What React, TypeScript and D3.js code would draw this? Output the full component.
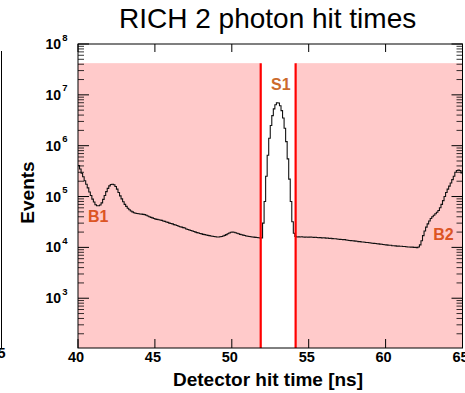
import React from "react";
import * as d3 from "d3";

// ---- data ----
const binStart = 40;
const binWidth = 0.1;
const counts: number[] = [
  4.07e5, 3.47e5, 2.88e5, 2.45e5, 2.04e5, 1.74e5, 1.48e5, 1.23e5, 1.05e5, 8.9e4,
  7.8e4, 6.9e4, 6.6e4, 6.6e4, 6.8e4, 7.5e4, 8.8e4, 1.05e5, 1.25e5, 1.45e5,
  1.62e5, 1.72e5, 1.75e5, 1.7e5, 1.58e5, 1.4e5, 1.2e5, 1.03e5, 9.0e4, 7.9e4,
  7.0e4, 6.4e4, 5.9e4, 5.5e4, 5.2e4, 5.0e4, 4.8e4, 4.7e4, 4.65e4, 4.6e4,
  4.55e4, 4.5e4, 4.45e4, 4.4e4, 4.3e4, 4.15e4, 4.0e4, 3.9e4, 3.8e4, 3.7e4,
  3.6e4, 3.55e4, 3.5e4, 3.45e4, 3.4e4, 3.3e4, 3.25e4, 3.15e4, 3.1e4, 3.0e4,
  2.95e4, 2.9e4, 2.8e4, 2.75e4, 2.7e4, 2.6e4, 2.55e4, 2.5e4, 2.45e4, 2.4e4,
  2.3e4, 2.25e4, 2.2e4, 2.15e4, 2.1e4, 2.05e4, 2.0e4, 1.95e4, 1.92e4, 1.88e4,
  1.84e4, 1.8e4, 1.78e4, 1.75e4, 1.72e4, 1.7e4, 1.68e4, 1.66e4, 1.64e4, 1.62e4,
  1.6e4, 1.6e4, 1.62e4, 1.64e4, 1.68e4, 1.72e4, 1.78e4, 1.85e4, 1.92e4, 1.98e4,
  2.0e4, 1.98e4, 1.94e4, 1.9e4, 1.85e4, 1.8e4, 1.77e4, 1.74e4, 1.71e4, 1.68e4,
  1.66e4, 1.64e4, 1.62e4, 1.6e4, 1.59e4, 1.57e4, 1.56e4, 1.55e4, 1.54e4, 1.53e4,
  3.0e4, 8.0e4, 2.5e5, 6.5e5, 1.4e6, 2.5e6, 3.9e6, 5.3e6, 6.4e6, 7.0e6,
  6.9e6, 6.1e6, 4.9e6, 3.5e6, 2.2e6, 1.2e6, 5.5e5, 2.2e5, 8.0e4, 3.2e4,
  1.9e4, 1.65e4, 1.6e4, 1.61e4, 1.6e4, 1.62e4, 1.6e4, 1.59e4, 1.6e4, 1.58e4,
  1.59e4, 1.6e4, 1.58e4, 1.57e4, 1.58e4, 1.56e4, 1.55e4, 1.56e4, 1.54e4, 1.55e4,
  1.54e4, 1.52e4, 1.53e4, 1.5e4, 1.51e4, 1.49e4, 1.48e4, 1.48e4, 1.46e4, 1.45e4,
  1.44e4, 1.43e4, 1.42e4, 1.42e4, 1.4e4, 1.38e4, 1.37e4, 1.36e4, 1.35e4, 1.34e4,
  1.33e4, 1.32e4, 1.3e4, 1.3e4, 1.28e4, 1.28e4, 1.26e4, 1.25e4, 1.25e4, 1.23e4,
  1.22e4, 1.21e4, 1.2e4, 1.19e4, 1.18e4, 1.17e4, 1.16e4, 1.15e4, 1.14e4, 1.13e4,
  1.12e4, 1.11e4, 1.1e4, 1.1e4, 1.08e4, 1.08e4, 1.07e4, 1.06e4, 1.06e4, 1.05e4,
  1.05e4, 1.04e4, 1.04e4, 1.03e4, 1.02e4, 1.02e4, 1.01e4, 1.01e4, 1.0e4, 1.0e4,
  9.9e3, 1.02e4, 1.12e4, 1.35e4, 1.7e4, 2.1e4, 2.5e4, 2.9e4, 3.3e4, 3.7e4,
  4.0e4, 4.3e4, 4.6e4, 4.9e4, 5.3e4, 6.0e4, 7.0e4, 8.3e4, 1.0e5, 1.2e5,
  1.4e5, 1.6e5, 1.85e5, 2.15e5, 2.5e5, 3.0e5, 3.25e5, 3.3e5, 3.25e5, 2.9e5,
];
const xTicks = [40, 45, 50, 55, 60, 65];
const yDecades = [3, 4, 5, 6, 7, 8];
const bandTop = 4.2e7;
const bgBands: [number, number][] = [[40, 51.88], [54.15, 65]];
const cutLines = [51.88, 54.15];
const regionLabels = [
  { text: "B1", x: 40.65, y: 3.2e4, color: "#dc5524" },
  { text: "S1", x: 52.55, y: 1.25e7, color: "#cc6a2c" },
  { text: "B2", x: 63.1, y: 1.4e4, color: "#dc5524" },
];
const title = "RICH 2 photon hit times";
const xTitle = "Detector hit time [ns]";
const yTitle = "Events";

const W = 465, H = 393;
const L = 78, R = 462.5, T = 44, B = 348;
const FONT = "'Liberation Sans', Arial, Helvetica, sans-serif";

export default function App() {
  const x = d3.scaleLinear().domain([40, 65]).range([L, R]);
  const y = d3.scaleLog().domain([105, 1e8]).range([B, T]);

  const pts: [number, number][] = counts.map((c, i) => [binStart + i * binWidth, c]);
  pts.push([binStart + counts.length * binWidth, counts[counts.length - 1]]);
  const line = d3
    .line<[number, number]>()
    .x((d) => x(d[0]))
    .y((d) => y(d[1]))
    .curve(d3.curveStepAfter);

  const minor: number[] = [];
  for (let d = 2; d < 8; d++) {
    for (let m = 2; m <= 9; m++) {
      const v = m * Math.pow(10, d);
      if (v >= 105 && v <= 1e8) minor.push(v);
    }
  }

  return (
    <svg width={W} height={H} style={{ position: "absolute", left: 0, top: 0, background: "#fff" }}>
      <defs>
        <clipPath id="plot">
          <rect x={L} y={T} width={R - L} height={B - T} />
        </clipPath>
      </defs>
      {/* neighbour panel edge */}
      <line x1={1.5} x2={1.5} y1={51} y2={B} stroke="#000" strokeWidth={1} />
      <text x={5.5} y={358} textAnchor="end" fontFamily={FONT} fontWeight="bold" fontSize={14.5}>65</text>

      {/* background bands */}
      {bgBands.map(([a, b], i) => (
        <rect key={i} x={x(a)} y={y(bandTop)} width={x(b) - x(a)} height={B - y(bandTop)} fill="#ffcaca" />
      ))}

      {/* histogram */}
      <path d={line(pts) || ""} fill="none" stroke="#111" strokeWidth={1.1} clipPath="url(#plot)" />

      {/* cut lines */}
      {cutLines.map((c, i) => (
        <line key={i} x1={x(c)} x2={x(c)} y1={y(bandTop)} y2={B} stroke="#ff0000" strokeWidth={2.2} />
      ))}

      {/* frame */}
      <rect x={L} y={T} width={R - L} height={B - T} fill="none" stroke="#000" strokeWidth={1} />

      {/* x ticks */}
      {xTicks.map((t) => (
        <g key={t}>
          <line x1={x(t)} x2={x(t)} y1={B} y2={B - 9} stroke="#000" />
          <line x1={x(t)} x2={x(t)} y1={T} y2={T + 8} stroke="#000" />
          <text x={x(t) - 2} y={362} textAnchor="middle" fontFamily={FONT} fontWeight="bold" fontSize={14.5}>{t}</text>
        </g>
      ))}

      {/* y ticks */}
      {yDecades.map((d) => {
        const yy = y(Math.pow(10, d));
        return (
          <g key={d}>
            <line x1={L} x2={L + 11} y1={yy} y2={yy} stroke="#000" />
            <line x1={R} x2={R - 11} y1={yy} y2={yy} stroke="#000" />
            <text x={61} y={yy + 5} textAnchor="end" fontFamily={FONT} fontWeight="bold" fontSize={14}>10</text>
            <text x={62.3} y={yy - 3.5} textAnchor="start" fontFamily={FONT} fontWeight="bold" fontSize={9.5}>{d}</text>
          </g>
        );
      })}
      {minor.map((v) => (
        <g key={v}>
          <line x1={L} x2={L + 6} y1={y(v)} y2={y(v)} stroke="#000" strokeWidth={0.8} />
          <line x1={R} x2={R - 6} y1={y(v)} y2={y(v)} stroke="#000" strokeWidth={0.8} />
        </g>
      ))}

      {/* region labels */}
      {regionLabels.map((r) => (
        <text key={r.text} x={x(r.x)} y={y(r.y)} fontFamily={FONT} fontWeight="bold" fontSize={16} fill={r.color}>{r.text}</text>
      ))}

      {/* titles */}
      <text x={119} y={28} fontFamily={FONT} fontSize={28} fill="#000">{title}</text>
      <text x={363} y={386} textAnchor="end" fontFamily={FONT} fontWeight="bold" fontSize={19}>{xTitle}</text>
      <text transform={`translate(34, 192.5) rotate(-90)`} textAnchor="middle" fontFamily={FONT} fontWeight="bold" fontSize={19}>{yTitle}</text>
    </svg>
  );
}
